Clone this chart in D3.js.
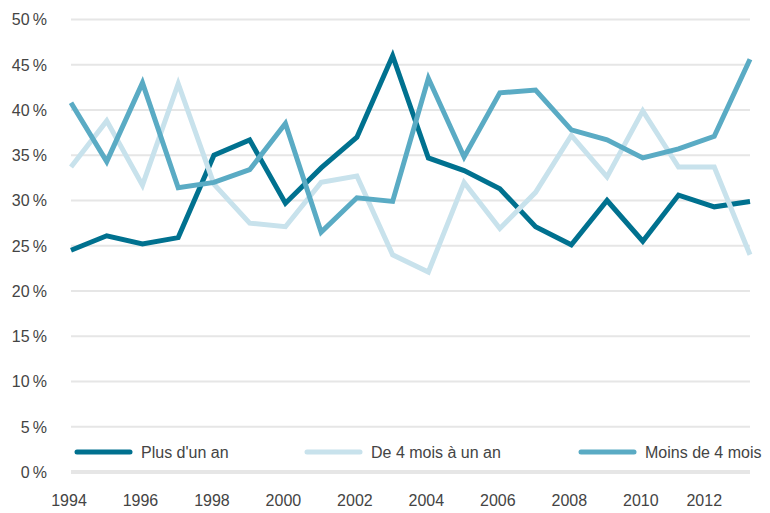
<!DOCTYPE html>
<html>
<head>
<meta charset="utf-8">
<script src="https://cdn.jsdelivr.net/npm/d3@7"></script>
<style>
  body { margin: 0; background: #fff; }
  svg text { font-family: "Liberation Sans", Arial, sans-serif; fill: #444; }
</style>
</head>
<body>
<div id="chart"></div>
<script>
var years = d3.range(1994, 2014);
var yTicks = [0, 5, 10, 15, 20, 25, 30, 35, 40, 45, 50];
var xTicks = [1994, 1996, 1998, 2000, 2002, 2004, 2006, 2008, 2010, 2012];

var plusUnAn = [24.5, 26.1, 25.2, 25.9, 35.0, 36.7, 29.7, 33.6, 37.0, 46.0,
                34.7, 33.3, 31.3, 27.1, 25.1, 30.0, 25.5, 30.6, 29.3, 29.9];
var quatreMoisUnAn = [33.7, 38.8, 31.7, 42.9, 31.8, 27.5, 27.1, 32.0, 32.7, 24.0,
                      22.1, 32.0, 26.9, 30.9, 37.2, 32.6, 39.9, 33.7, 33.7, 24.0];
var moinsQuatreMois = [40.8, 34.3, 43.0, 31.4, 32.0, 33.4, 38.5, 26.5, 30.3, 29.9,
                       43.5, 34.8, 41.9, 42.2, 37.8, 36.7, 34.7, 35.7, 37.1, 45.6];

var series = [
  { name: "Plus d'un an", values: plusUnAn, color: "#00718f" },
  { name: "De 4 mois à un an", values: quatreMoisUnAn, color: "#c8e2ec" },
  { name: "Moins de 4 mois", values: moinsQuatreMois, color: "#5aabc4" }
];

var width = 770, height = 513;

var svg = d3.select('#chart').append('svg')
  .attr('width', width)
  .attr('height', height);

var x = d3.scaleLinear().domain([1994, 2013]).range([71, 750]);
var y = d3.scaleLinear().domain([0, 50]).range([472, 19.5]);

// gridlines
svg.append('g').selectAll('line')
  .data(yTicks)
  .enter().append('line')
    .attr('x1', 71)
    .attr('x2', 750)
    .attr('y1', function(d){ return y(d); })
    .attr('y2', function(d){ return y(d); })
    .attr('stroke', '#e6e6e6')
    .attr('stroke-width', function(d){ return d === 0 ? 4 : 2; });

// y labels
svg.append('g').selectAll('text')
  .data(yTicks)
  .enter().append('text')
    .attr('x', 47)
    .attr('y', function(d){ return y(d); })
    .attr('dy', '.36em')
    .attr('text-anchor', 'end')
    .style('font-size', '16px')
    .text(function(d){ return d + '\u2009%'; });

// x labels
svg.append('g').selectAll('text')
  .data(xTicks)
  .enter().append('text')
    .attr('x', function(d){ return x(d) + (d === 2012 ? -10 : -2); })
    .attr('y', 506)
    .attr('text-anchor', 'middle')
    .style('font-size', '16px')
    .text(function(d){ return d; });

var line = d3.line()
  .x(function(d, i){ return x(years[i]); })
  .y(function(d){ return y(d); });

svg.append('g').selectAll('path')
  .data(series)
  .enter().append('path')
    .attr('d', function(d){ return line(d.values); })
    .attr('fill', 'none')
    .attr('stroke', function(d){ return d.color; })
    .attr('stroke-width', 5)
    .attr('stroke-linejoin', 'miter');

// legend
var legendX = [77, 307, 581];
var legend = svg.selectAll('.legend')
  .data(series)
  .enter().append('g')
    .attr('class', 'legend')
    .attr('transform', function(d, i){ return 'translate(' + legendX[i] + ',452)'; });

legend.append('line')
  .attr('x1', 0)
  .attr('x2', 53)
  .attr('stroke', function(d){ return d.color; })
  .attr('stroke-width', 5)
  .attr('stroke-linecap', 'round');

legend.append('text')
  .attr('x', 64)
  .attr('dy', '.36em')
  .style('font-size', '16px')
  .text(function(d){ return d.name; });
</script>
</body>
</html>
